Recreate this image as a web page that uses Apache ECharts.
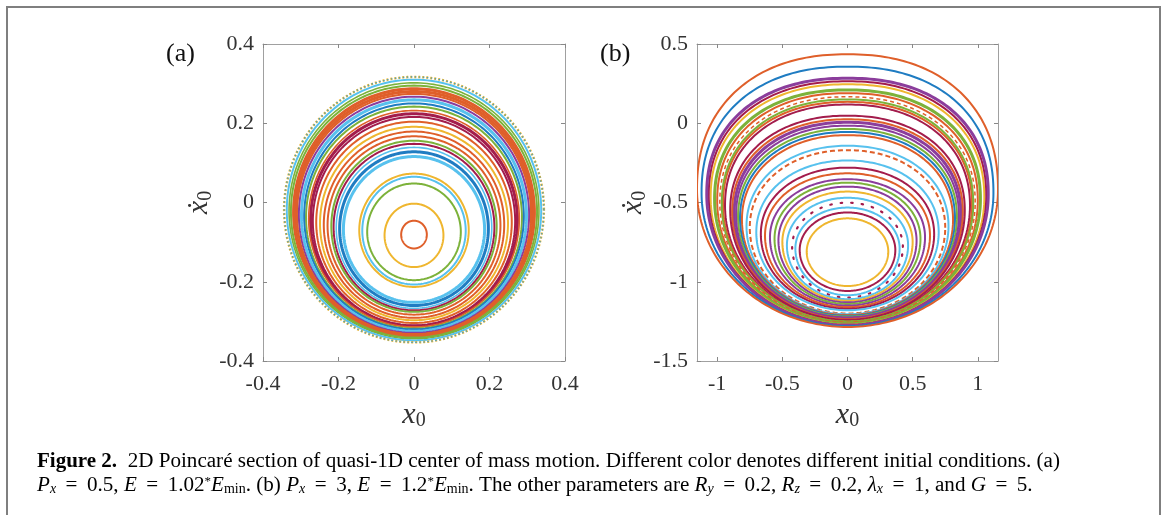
<!DOCTYPE html>
<html><head><meta charset="utf-8">
<script src="https://cdn.jsdelivr.net/npm/echarts@6/dist/echarts.min.js"></script>
<style>html,body{margin:0;padding:0;background:#fff}#c{width:1165px;height:515px}</style>
</head><body><div id="c"></div>
<script>
// ---------- DATA ----------
// Panel (a): closed invariant curves, inner to outer (data units)
const aCenterY = [-0.081,-0.083,-0.074,-0.071,-0.070,-0.068,-0.066,-0.064,-0.062,-0.060,-0.058,-0.056,-0.053,-0.050,-0.047,-0.044,-0.041,-0.038,-0.035,-0.033,-0.031,-0.029,-0.027,-0.025,-0.023,-0.021,-0.019,-0.018];
const aRadiusY = [0.035,0.080,0.122,0.136,0.143,0.184,0.194,0.203,0.210,0.216,0.225,0.235,0.244,0.254,0.263,0.268,0.273,0.280,0.285,0.292,0.298,0.303,0.307,0.312,0.318,0.323,0.329,0.335];
const aRadiusX = [0.034,0.078,0.124,0.137,0.145,0.187,0.197,0.206,0.213,0.219,0.229,0.239,0.249,0.259,0.268,0.274,0.279,0.286,0.291,0.298,0.305,0.310,0.314,0.319,0.326,0.331,0.337,0.344];
// Panel (b): egg-shaped curves, inner to outer: top, bottom, height of widest point, half width
const bTop      = [-0.600,-0.563,-0.532,-0.501,-0.470,-0.431,-0.400,-0.375,-0.353,-0.316,-0.280,-0.235,-0.170,-0.142,-0.075,-0.055,-0.036,-0.015,0.006,0.025,0.048,0.118,0.135,0.150,0.167,0.190,0.210,0.246,0.265,0.284,0.357,0.435];
const bBottom   = [-1.027,-1.058,-1.085,-1.100,-1.110,-1.120,-1.130,-1.140,-1.150,-1.160,-1.170,-1.180,-1.200,-1.205,-1.210,-1.215,-1.220,-1.225,-1.230,-1.235,-1.240,-1.245,-1.250,-1.250,-1.255,-1.260,-1.265,-1.270,-1.272,-1.275,-1.280,-1.285];
const bWidestY  = [-0.810,-0.800,-0.790,-0.780,-0.770,-0.750,-0.740,-0.730,-0.720,-0.710,-0.700,-0.690,-0.660,-0.650,-0.610,-0.600,-0.590,-0.580,-0.570,-0.560,-0.550,-0.520,-0.510,-0.510,-0.500,-0.490,-0.480,-0.470,-0.460,-0.450,-0.440,-0.420];
const bHalfWidth= [0.313,0.367,0.400,0.425,0.465,0.500,0.530,0.560,0.595,0.633,0.665,0.700,0.750,0.775,0.810,0.825,0.840,0.855,0.870,0.885,0.900,0.940,0.955,0.965,0.980,1.000,1.020,1.050,1.065,1.080,1.120,1.155];
// Tick labels
const aTicks = [-0.4,-0.2,0,0.2,0.4];
const bXTicks = [-1,-0.5,0,0.5,1];
const bYTicks = [-1.5,-1,-0.5,0,0.5];

// ---------- STYLES ----------
const K = {b:'#1f7cc2', o:'#df5f2a', y:'#efb62f', p:'#8b3d9c', g:'#7cb23a', c:'#57c1ee', m:'#a31c4c'};
const aColors = ['o','y','g','c','y','c','b','c','m','g','o','o','y','o','m','m','o','g','b','c','p','o','o','o','g','g','c','y'];
const aWidths = [2,2,2,2,2,3,3,1.6,2,2,2,2,2,2,2,3,1.6,2,2,3,2,2,3,3,2,1.6,2,2.5];
const bColors = ['y','m','c','m','c','y','p','g','p','o','m','c','o','c','o','b','g','p','p','o','m','m','o','g','o','o','g','y','m','p','b','o'];
const bWidths = [2,2,2,2,2,2,2,2,2,2,2,2,2,2,2,2,2,2,3,2,2,2,2,2,1.5,2,3,2,2,3,2,2];
const bDash   = {3:[1.5,9], 12:[5,3], 24:[4,3]};

// closed curve through the library's pixel coords; upper/lower halves may have different
// vertical radii and squareness exponents
function eggPoints(cx, cy, rx, ryUp, ryDown, nUp, nDown){
  const pts = [], N = 240;
  for (let k = 0; k < N; k++){
    const t = 2*Math.PI*k/N, c = Math.cos(t), s = Math.sin(t);
    const n = s > 0 ? nUp : nDown;
    const px = Math.sign(c)*Math.pow(Math.abs(c), 2/n);
    const py = Math.sign(s)*Math.pow(Math.abs(s), 2/n);
    pts.push([cx + rx*px, cy - (s > 0 ? ryUp : ryDown)*py]);
  }
  return pts;
}
function renderA(params, api){
  const i = params.dataIndex;
  const c = api.coord([api.value(0), api.value(1)]);
  const sz = api.size([api.value(2), api.value(3)]);
  return {type:'polygon', silent:true,
    shape:{points: eggPoints(c[0], c[1], sz[0], sz[1], sz[1], 2, 2)},
    style:{fill:'none', stroke:K[aColors[i]], lineWidth:aWidths[i],
      lineDash: i === aColors.length-1 ? [2,2] : null}};
}
function renderA2(params, api){ // dotted overlay of outermost ring
  const c = api.coord([api.value(0), api.value(1)]);
  const sz = api.size([api.value(2), api.value(3)]);
  return {type:'polygon', silent:true,
    shape:{points: eggPoints(c[0], c[1], sz[0], sz[1], sz[1], 2, 2)},
    style:{fill:'none', stroke:'#3f9fc8', lineWidth:1.2, lineDash:[1.5,2.5]}};
}
function renderB(params, api){
  const i = params.dataIndex;
  const top = api.coord([0, api.value(0)]);
  const bot = api.coord([0, api.value(1)]);
  const mid = api.coord([0, api.value(2)]);
  const w = api.size([api.value(3), 0])[0];
  const dash = bDash[i] || null;
  const frac = i/(bColors.length-1);
  const nUp = 2 + 0.25*frac;
  return {type:'polygon', silent:true,
    shape:{points: eggPoints(mid[0], mid[1], w, mid[1]-top[1], bot[1]-mid[1], nUp, 2)},
    style:{fill:'none', stroke:K[bColors[i]], lineWidth: i===3 ? 2.2 : bWidths[i],
      lineDash: dash, lineCap: i===3 ? 'round' : 'butt'}};
}

const aData = aCenterY.map((c, i) => [0, c, aRadiusX[i], aRadiusY[i]]);
const bData = bTop.map((t, i) => [t, bBottom[i], bWidestY[i], bHalfWidth[i]]);

const SERIF = 'Liberation Serif';
const lbl = {fontFamily:SERIF, fontSize:22, color:'#333'};
const axLine = {show:true, onZero:false, lineStyle:{color:'#a0a0a0', width:1}};
const tick = {show:true, inside:true, length:4, lineStyle:{color:'#888'}};
const nameRich = {
  x:{fontFamily:SERIF, fontStyle:'italic', fontSize:30, color:'#333'},
  s:{fontFamily:SERIF, fontSize:20, color:'#333', verticalAlign:'bottom', padding:[12,0,0,0]}
};

function xAxes(gi, min, max, ticks){
  const base = {type:'value', gridIndex:gi, min, max, splitLine:{show:false}, axisLine:axLine};
  return [
    Object.assign({}, base, {position:'bottom',
      axisTick:Object.assign({customValues:ticks}, tick),
      axisLabel:Object.assign({customValues:ticks, margin:12}, lbl),
      name:'{x|x}{s|0}', nameLocation:'middle', nameGap:34, nameTextStyle:{rich:nameRich}}),
    Object.assign({}, base, {position:'top',
      axisTick:Object.assign({customValues:ticks}, tick), axisLabel:{show:false}})
  ];
}
function yAxes(gi, min, max, ticks, gap){
  const base = {type:'value', gridIndex:gi, min, max, splitLine:{show:false}, axisLine:axLine};
  return [
    Object.assign({}, base, {position:'left',
      axisTick:Object.assign({customValues:ticks}, tick),
      axisLabel:Object.assign({customValues:ticks, margin:9}, lbl),
      name:'{x|ẋ}{s|0}', nameLocation:'middle', nameGap:gap, nameRotate:90, nameTextStyle:{rich:nameRich}}),
    Object.assign({}, base, {position:'right',
      axisTick:Object.assign({customValues:ticks}, tick), axisLabel:{show:false}})
  ];
}

const capFont = 21.1;
const TC = '#231f20';
const capRich = {
  b:{fontFamily:SERIF, fontSize:21, fontWeight:'bold', color:TC},
  r:{fontFamily:SERIF, fontSize:capFont, color:TC},
  i:{fontFamily:SERIF, fontSize:capFont, fontStyle:'italic', color:TC},
  sub:{fontFamily:SERIF, fontSize:14, color:TC, verticalAlign:'bottom'},
  subi:{fontFamily:SERIF, fontSize:14, fontStyle:'italic', color:TC, verticalAlign:'bottom'},
  sup:{fontFamily:SERIF, fontSize:13, color:TC, verticalAlign:'top'}
};
const EQ = ' \u2009=\u2009 ';
const capLine1 = '{b|Figure 2.}{r|  2D Poincaré section of quasi-1D center of mass motion. Different color denotes different initial conditions. (a)}';
const capLine2 = '{i|P}{subi|x}{r|' + EQ + '0.5, }{i|E}{r|' + EQ + '1.02}{sup|*}{i|E}{sub|min}{r|. (b) }{i|P}{subi|x}{r|' + EQ + '3, }{i|E}{r|' + EQ + '1.2}{sup|*}{i|E}{sub|min}{r|. The other parameters are }{i|R}{subi|y}{r|' + EQ + '0.2, }{i|R}{subi|z}{r|' + EQ + '0.2, }{i|λ}{subi|x}{r|' + EQ + '1, and }{i|G}{r|' + EQ + '5.}';

const chart = echarts.init(document.getElementById('c'), null, {renderer:'canvas'});
chart.setOption({
  animation:false,
  backgroundColor:'#fff',
  grid:[
    {left:263, top:44, width:302, height:317},
    {left:697, top:44, width:301, height:317}
  ],
  xAxis:[].concat(xAxes(0,-0.4,0.4,aTicks), xAxes(1,-1.155,1.155,bXTicks)),
  yAxis:[].concat(yAxes(0,-0.4,0.4,aTicks,44), yAxes(1,-1.5,0.5,bYTicks,42)),
  series:[
    {type:'custom', xAxisIndex:0, yAxisIndex:0, clip:true, renderItem:renderA, data:aData, encode:{x:0,y:1}},
    {type:'custom', xAxisIndex:0, yAxisIndex:0, clip:true, renderItem:renderA2, data:aData.slice(-1), encode:{x:0,y:1}},
    {type:'custom', xAxisIndex:2, yAxisIndex:2, clip:true, renderItem:renderB, data:bData, encode:{x:3,y:0}}
  ],
  graphic:[
    {type:'rect', silent:true, shape:{x:7, y:7, width:1153, height:540}, style:{fill:'none', stroke:'#7f7f7f', lineWidth:2}},
    {type:'text', left:166, top:41, silent:true, style:{text:'(a)', font:'26px "Liberation Serif"', fill:'#111'}},
    {type:'text', left:600, top:41, silent:true, style:{text:'(b)', font:'26px "Liberation Serif"', fill:'#111'}},
    {type:'text', left:37, top:451, silent:true, style:{text:capLine1, rich:capRich}},
    {type:'text', left:37, top:475, silent:true, style:{text:capLine2, rich:capRich}}
  ]
});
</script></body></html>
